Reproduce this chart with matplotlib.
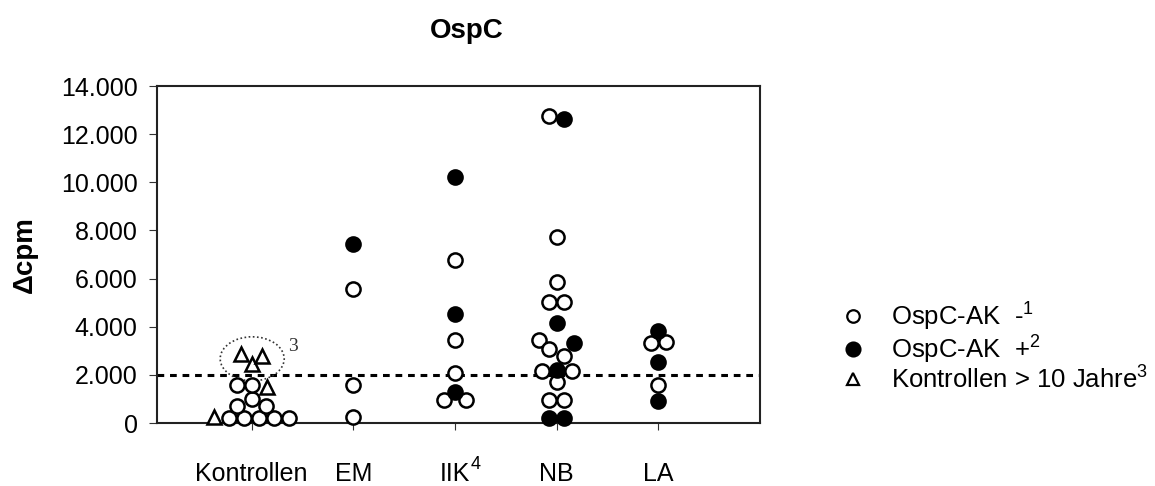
import numpy as np
import matplotlib.pyplot as plt
from matplotlib.lines import Line2D
from matplotlib.patches import Ellipse
from matplotlib.ticker import FuncFormatter

plt.rcParams['font.family'] = ['Liberation Sans', 'DejaVu Sans']
plt.rcParams['mathtext.fontset'] = 'custom'
plt.rcParams['mathtext.rm'] = 'Liberation Sans'
plt.rcParams['mathtext.it'] = 'Liberation Sans:italic'
plt.rcParams['mathtext.bf'] = 'Liberation Sans:bold'

# delta cpm per sample; kind: o = OspC-AK negative, f = OspC-AK positive,
# t = control older than 10 years. Within a row, points run left to right
# in list order.
categories = ['Kontrollen', 'EM', 'IIK', 'NB', 'LA']
footnotes = ['', '', '4', '', '']

kontrollen_values = [230, 220, 220, 220, 220, 220, 690, 690, 1010,
                     1560, 1560, 1490, 2460, 2875, 2800]
kontrollen_kinds = ['t', 'o', 'o', 'o', 'o', 'o', 'o', 'o', 'o',
                    'o', 'o', 't', 't', 't', 't']

em_values = [7430, 5570, 1560, 250]
em_kinds = ['f', 'o', 'o', 'o']

iik_values = [10220, 6770, 4530, 3450, 2070, 1280, 970, 970]
iik_kinds = ['f', 'o', 'f', 'o', 'o', 'f', 'o', 'o']

nb_values = [12750, 12640, 7730, 5840, 5010, 5010, 4140, 3430, 3310,
             3080, 2800, 2180, 2210, 2180, 1700, 970, 970, 220, 220]
nb_kinds = ['o', 'f', 'o', 'o', 'o', 'o', 'f', 'o', 'f',
            'o', 'o', 'o', 'f', 'o', 'o', 'o', 'o', 'f', 'f']

la_values = [3810, 3310, 3360, 2530, 1590, 900]
la_kinds = ['f', 'o', 'o', 'f', 'o', 'f']

cutoff = 2000

groups = [
    (kontrollen_values, kontrollen_kinds),
    (em_values, em_kinds),
    (iik_values, iik_kinds),
    (nb_values, nb_kinds),
    (la_values, la_kinds),
]

styles = {
    'o': dict(marker='o', markerfacecolor='white', markeredgecolor='black'),
    'f': dict(marker='o', markerfacecolor='black', markeredgecolor='black'),
    't': dict(marker='^', markerfacecolor='white', markeredgecolor='black'),
}


def swarm_offsets(values, px_per_unit, spacing, tol=300, min_dist=0.85):
    """Horizontal offsets (pixels) laying out points of one column in rows."""
    values = np.asarray(values, float)
    order = np.argsort(values, kind='stable')
    rows = []
    for i in order:
        if rows and values[i] - values[rows[-1][0]] <= tol:
            rows[-1].append(i)
        else:
            rows.append([i])
    rows = [sorted(r) for r in rows]
    # single points sit on the centre line, wider rows are spread around them
    rows.sort(key=lambda r: (len(r) > 1, values[r].min()))

    offsets = np.zeros(len(values))
    placed = []
    limit = min_dist * spacing
    for row in rows:
        n = len(row)
        base = (np.arange(n) - (n - 1) / 2) * spacing
        chosen = base
        for f in np.arange(1.0, 2.51, 0.125):
            trial = base * f
            ok = all(
                np.hypot(trial[k] - offsets[j],
                         (values[i] - values[j]) * px_per_unit) >= limit
                for k, i in enumerate(row) for j in placed
            )
            if ok:
                chosen = trial
                break
        offsets[row] = chosen
        placed.extend(row)
    return offsets


fig = plt.figure(figsize=(11.55, 4.86), dpi=100)
ax = fig.add_axes([0.1359, 0.1296, 0.522, 0.6934])
positions = np.arange(1, len(categories) + 1)
ax.set_xlim(0.07, 6.0)
ax.set_ylim(0, 14000)

# pixel scales of the data axes, used for the swarm layout
p0 = ax.transData.transform((0, 0))
p1 = ax.transData.transform((1, 1000))
px_per_x = p1[0] - p0[0]
px_per_y = (p1[1] - p0[1]) / 1000.0
spacing = 15.0

for pos, (vals, kinds) in zip(positions, groups):
    vals = np.asarray(vals, float)
    kinds = np.asarray(kinds)
    xs = pos + swarm_offsets(vals, px_per_y, spacing) / px_per_x
    for kind, st in styles.items():
        m = kinds == kind
        if m.any():
            size = 10.0 if kind == 't' else 10.2
            ax.plot(xs[m], vals[m], linestyle='none', markersize=size,
                    markeredgewidth=1.8, zorder=3, clip_on=False, **st)

# positivity threshold
ax.axhline(cutoff, color='black', linewidth=2.2, dashes=(2.2, 1.9), zorder=2)

# dotted ring around the older controls above the threshold
older = np.asarray(kontrollen_values, float)[
    (np.asarray(kontrollen_kinds) == 't')
    & (np.asarray(kontrollen_values) > cutoff)]
ring_y = (older.min() + older.max()) / 2
ring_w = 64 / px_per_x
ring_h = 44 / px_per_y
ax.add_patch(Ellipse((positions[0] + 0.007, ring_y), ring_w, ring_h,
                     fill=False, linestyle=(0, (1, 1.5)), linewidth=1.2,
                     edgecolor='#333333', zorder=2))
ax.annotate('3', xy=(positions[0] + ring_w / 2, ring_y), xytext=(3, 3),
            textcoords='offset points', fontsize=14, family='Liberation Serif',
            color='#333333', va='bottom', ha='left')

ax.set_xticks(positions)
ax.set_xticklabels(categories)
ax.set_yticks(np.arange(0, 14001, 2000))
ax.yaxis.set_major_formatter(
    FuncFormatter(lambda v, _: f'{v:,.0f}'.replace(',', '.')))

for side in ax.spines.values():
    side.set_linewidth(1.5)
    side.set_color('#222222')
ax.tick_params(axis='y', direction='out', length=6, width=0.8, pad=8,
               labelsize=18, color='#333333')
ax.tick_params(axis='x', direction='out', length=5, width=0.8, pad=23,
               labelsize=18, color='#333333')

ax.set_ylabel('Δcpm', fontsize=20, fontweight='bold')
ax.yaxis.set_label_coords(-0.197, 0.5)

fig.text(467 / 1155, 1 - 31 / 486, 'OspC', ha='center', va='center',
         fontsize=20, fontweight='bold')

# footnote numbers raised at the end of the category names
fig.canvas.draw()
renderer = fig.canvas.get_renderer()
for lab, note in zip(ax.get_xticklabels(), footnotes):
    if note:
        bb = lab.get_window_extent(renderer)
        fx, fy = fig.transFigure.inverted().transform((bb.x1 + 1, bb.y1 - 3))
        fig.text(fx, fy, note, fontsize=13, ha='left', va='center')

handles = [
    Line2D([], [], linestyle='none', markersize=9, markeredgewidth=1.6,
           **styles['o']),
    Line2D([], [], linestyle='none', markersize=10, markeredgewidth=1.6,
           **styles['f']),
    Line2D([], [], linestyle='none', markersize=8, markeredgewidth=1.6,
           **styles['t']),
]
labels = ['OspC-AK  -$^{1}$', 'OspC-AK  +$^{2}$', 'Kontrollen > 10 Jahre$^{3}$']
ax.legend(handles, labels, loc='center left',
          bbox_to_anchor=(840 / 1155, 1 - 347 / 486),
          bbox_transform=fig.transFigure, frameon=False, fontsize=18.5,
          handlelength=1.0, handletextpad=1.0, labelspacing=0.02,
          borderpad=0, borderaxespad=0)

fig.savefig('out.png', dpi=100)
